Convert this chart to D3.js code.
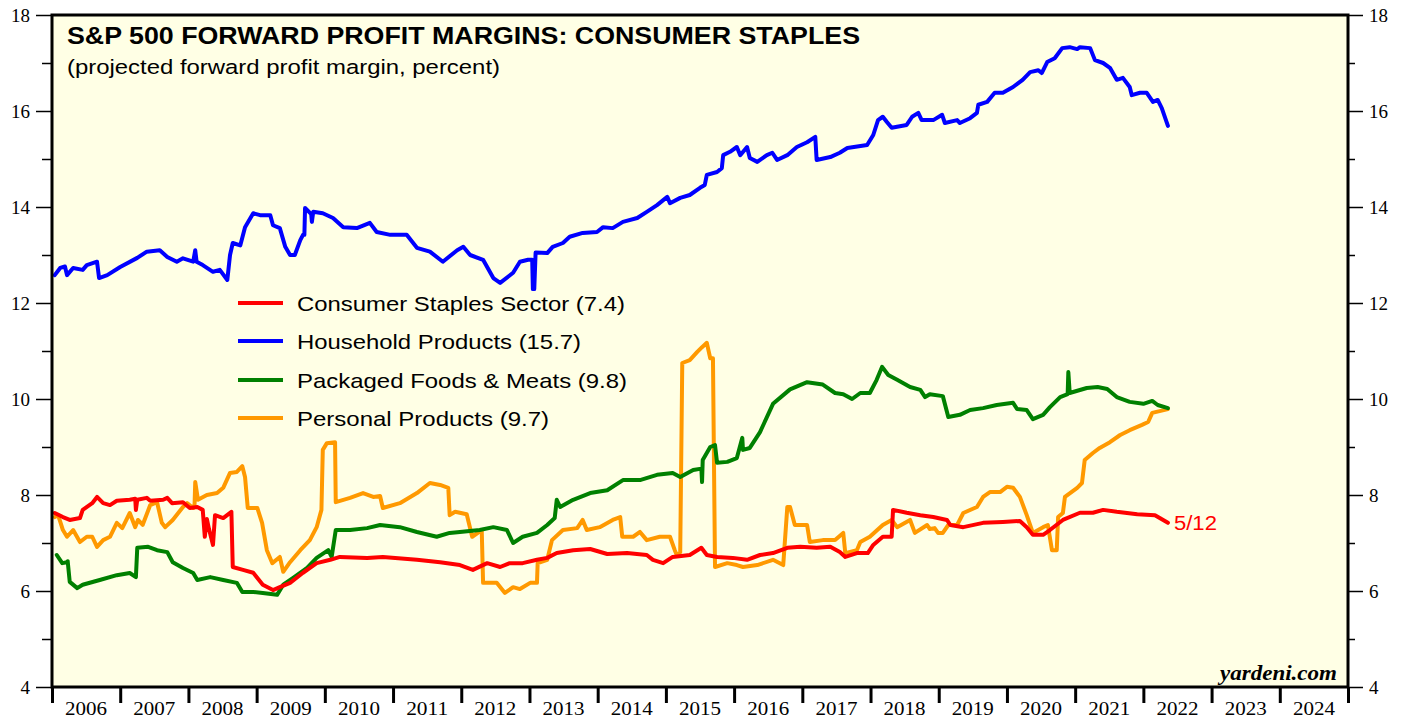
<!DOCTYPE html>
<html><head><meta charset="utf-8">
<script src="https://cdn.jsdelivr.net/npm/d3@7"></script>
<style>
body{margin:0;background:#fff;}
svg{display:block;}
</style></head>
<body>
<svg id="c" width="1407" height="719"></svg>
<script>
// ---------- DATA ----------
const years = d3.range(2006, 2025);            // year labels
const yMajorTicks = [4, 6, 8, 10, 12, 14, 16, 18];
const yMinorTicks = [5, 7, 9, 11, 13, 15, 17];

const seriesNames = ["Consumer Staples Sector (7.4)", "Household Products (15.7)", "Packaged Foods & Meats (9.8)", "Personal Products (9.7)"];
const seriesColors = ["#ff0000", "#0000ff", "#008000", "#ff9900"];

// [decimal year, percent]
const consumerStaples = [[2006.04,7.625],[2006.16,7.54],[2006.26,7.48],[2006.41,7.52],[2006.45,7.69],[2006.59,7.83],[2006.66,7.96],[2006.75,7.83],[2006.85,7.79],[2006.95,7.88],[2007.14,7.9],[2007.22,7.92],[2007.23,7.69],[2007.25,7.9],[2007.39,7.94],[2007.44,7.88],[2007.63,7.9],[2007.69,7.94],[2007.76,7.83],[2007.92,7.85],[2008.02,7.73],[2008.13,7.75],[2008.21,7.69],[2008.24,7.13],[2008.27,7.5],[2008.30,7.3],[2008.36,6.96],[2008.39,7.58],[2008.51,7.52],[2008.63,7.65],[2008.65,6.5],[2008.80,6.44],[2008.95,6.38],[2009.09,6.13],[2009.24,6.02],[2009.34,6.08],[2009.49,6.17],[2009.68,6.38],[2009.88,6.58],[2010.08,6.65],[2010.22,6.71],[2010.62,6.69],[2010.85,6.71],[2011.35,6.65],[2011.69,6.6],[2011.98,6.54],[2012.17,6.44],[2012.38,6.58],[2012.57,6.5],[2012.71,6.58],[2012.90,6.58],[2013.11,6.65],[2013.26,6.69],[2013.40,6.79],[2013.64,6.85],[2013.89,6.875],[2014.14,6.77],[2014.43,6.79],[2014.72,6.75],[2014.81,6.65],[2014.96,6.58],[2015.10,6.71],[2015.35,6.75],[2015.52,6.9],[2015.60,6.75],[2015.75,6.71],[2015.98,6.69],[2016.19,6.65],[2016.38,6.75],[2016.57,6.79],[2016.78,6.9],[2016.97,6.92],[2017.21,6.9],[2017.41,6.92],[2017.55,6.81],[2017.63,6.71],[2017.80,6.79],[2017.96,6.79],[2018.04,6.96],[2018.18,7.13],[2018.31,7.13],[2018.33,7.69],[2018.53,7.63],[2018.73,7.58],[2018.92,7.54],[2019.12,7.48],[2019.17,7.375],[2019.36,7.33],[2019.65,7.42],[2019.94,7.44],[2020.19,7.46],[2020.29,7.33],[2020.38,7.17],[2020.53,7.17],[2020.63,7.27],[2020.82,7.48],[2021.07,7.63],[2021.26,7.63],[2021.41,7.69],[2021.61,7.65],[2021.91,7.6],[2022.17,7.58],[2022.36,7.42]];

const householdProducts = [[2006.04,12.58],[2006.12,12.73],[2006.19,12.76],[2006.22,12.58],[2006.31,12.73],[2006.45,12.69],[2006.51,12.79],[2006.66,12.86],[2006.69,12.52],[2006.81,12.58],[2007.00,12.75],[2007.25,12.94],[2007.39,13.07],[2007.58,13.1],[2007.69,12.96],[2007.83,12.86],[2007.92,12.93],[2008.07,12.86],[2008.10,13.1],[2008.12,12.86],[2008.21,12.79],[2008.36,12.65],[2008.46,12.69],[2008.57,12.48],[2008.61,13.0],[2008.65,13.25],[2008.76,13.2],[2008.83,13.58],[2008.95,13.87],[2009.05,13.83],[2009.20,13.83],[2009.24,13.62],[2009.34,13.56],[2009.42,13.17],[2009.49,13.0],[2009.56,13.0],[2009.64,13.31],[2009.68,13.42],[2009.70,13.42],[2009.71,13.98],[2009.80,13.85],[2009.81,13.69],[2009.83,13.9],[2009.97,13.87],[2010.12,13.77],[2010.27,13.58],[2010.47,13.56],[2010.66,13.67],[2010.76,13.48],[2010.96,13.42],[2011.20,13.42],[2011.35,13.15],[2011.54,13.07],[2011.73,12.86],[2011.94,13.1],[2012.03,13.17],[2012.13,13.0],[2012.32,12.9],[2012.47,12.52],[2012.57,12.42],[2012.76,12.63],[2012.86,12.86],[2012.98,12.9],[2013.04,12.9],[2013.05,12.29],[2013.07,12.29],[2013.09,13.05],[2013.26,13.04],[2013.34,13.17],[2013.49,13.25],[2013.59,13.38],[2013.78,13.46],[2013.99,13.48],[2014.08,13.58],[2014.22,13.56],[2014.37,13.69],[2014.58,13.77],[2014.72,13.9],[2014.87,14.04],[2015.02,14.21],[2015.06,14.08],[2015.21,14.19],[2015.35,14.25],[2015.50,14.4],[2015.57,14.46],[2015.60,14.67],[2015.75,14.73],[2015.82,14.81],[2015.84,15.08],[2015.94,15.15],[2016.04,15.25],[2016.09,15.08],[2016.19,15.25],[2016.23,15.02],[2016.34,14.94],[2016.48,15.08],[2016.56,15.13],[2016.63,14.98],[2016.78,15.08],[2016.92,15.25],[2017.07,15.35],[2017.19,15.46],[2017.21,14.98],[2017.41,15.04],[2017.55,15.13],[2017.66,15.23],[2017.95,15.29],[2018.04,15.5],[2018.11,15.81],[2018.18,15.88],[2018.24,15.77],[2018.31,15.65],[2018.53,15.71],[2018.61,15.88],[2018.70,15.96],[2018.75,15.81],[2018.92,15.81],[2019.05,15.92],[2019.09,15.75],[2019.27,15.81],[2019.31,15.75],[2019.46,15.85],[2019.56,15.96],[2019.58,16.13],[2019.71,16.19],[2019.82,16.38],[2019.94,16.38],[2020.09,16.5],[2020.23,16.65],[2020.34,16.81],[2020.46,16.85],[2020.51,16.79],[2020.59,17.02],[2020.70,17.1],[2020.81,17.31],[2020.92,17.33],[2021.03,17.29],[2021.07,17.33],[2021.22,17.31],[2021.29,17.06],[2021.41,17.0],[2021.51,16.9],[2021.61,16.65],[2021.70,16.69],[2021.80,16.5],[2021.83,16.33],[2021.95,16.38],[2022.05,16.38],[2022.14,16.19],[2022.21,16.23],[2022.27,16.06],[2022.36,15.69]];

const packagedFoods = [[2006.07,6.75],[2006.15,6.58],[2006.22,6.6],[2006.23,6.62],[2006.26,6.19],[2006.37,6.06],[2006.45,6.13],[2006.70,6.23],[2006.95,6.33],[2007.14,6.375],[2007.23,6.29],[2007.25,6.9],[2007.41,6.92],[2007.54,6.85],[2007.69,6.81],[2007.77,6.6],[2007.92,6.48],[2008.07,6.375],[2008.13,6.23],[2008.32,6.29],[2008.51,6.23],[2008.71,6.17],[2008.79,5.98],[2008.95,5.98],[2009.09,5.96],[2009.30,5.92],[2009.39,6.13],[2009.53,6.27],[2009.74,6.48],[2009.88,6.69],[2010.05,6.85],[2010.10,6.71],[2010.16,7.27],[2010.37,7.27],[2010.62,7.31],[2010.81,7.375],[2011.10,7.33],[2011.35,7.23],[2011.64,7.13],[2011.83,7.21],[2011.98,7.23],[2012.27,7.27],[2012.47,7.33],[2012.67,7.27],[2012.76,7.0],[2012.90,7.13],[2013.11,7.21],[2013.26,7.375],[2013.37,7.52],[2013.40,7.9],[2013.45,7.75],[2013.64,7.9],[2013.89,8.04],[2014.14,8.1],[2014.37,8.31],[2014.62,8.31],[2014.87,8.42],[2015.10,8.46],[2015.21,8.375],[2015.40,8.52],[2015.52,8.55],[2015.53,8.27],[2015.54,8.73],[2015.65,9.0],[2015.72,9.04],[2015.75,8.67],[2015.90,8.69],[2016.04,8.77],[2016.12,9.19],[2016.13,8.94],[2016.23,8.98],[2016.38,9.31],[2016.57,9.9],[2016.82,10.2],[2017.07,10.35],[2017.30,10.3],[2017.48,10.125],[2017.60,10.1],[2017.73,10.0],[2017.85,10.125],[2017.99,10.125],[2018.09,10.4],[2018.17,10.67],[2018.26,10.5],[2018.39,10.4],[2018.58,10.25],[2018.73,10.19],[2018.80,10.04],[2018.87,10.1],[2019.06,10.06],[2019.14,9.625],[2019.31,9.67],[2019.46,9.77],[2019.65,9.81],[2019.85,9.875],[2020.09,9.92],[2020.15,9.79],[2020.29,9.77],[2020.38,9.58],[2020.53,9.67],[2020.63,9.83],[2020.78,10.04],[2020.89,10.1],[2020.90,10.56],[2020.92,10.125],[2021.17,10.23],[2021.33,10.25],[2021.47,10.21],[2021.61,10.04],[2021.80,9.94],[2022.00,9.9],[2022.13,9.96],[2022.21,9.875],[2022.36,9.81]];

const personalProducts = [[2006.04,7.54],[2006.09,7.58],[2006.16,7.27],[2006.22,7.13],[2006.31,7.27],[2006.41,7.02],[2006.51,7.13],[2006.59,7.13],[2006.66,6.92],[2006.75,7.06],[2006.85,7.13],[2006.95,7.42],[2007.03,7.31],[2007.14,7.625],[2007.22,7.33],[2007.26,7.48],[2007.33,7.38],[2007.44,7.79],[2007.54,7.85],[2007.61,7.42],[2007.66,7.33],[2007.77,7.48],[2007.92,7.75],[2007.98,7.83],[2008.07,7.73],[2008.09,7.8],[2008.10,8.27],[2008.14,7.9],[2008.27,8.0],[2008.42,8.04],[2008.51,8.15],[2008.61,8.46],[2008.71,8.48],[2008.79,8.6],[2008.83,8.375],[2008.87,7.73],[2009.01,7.73],[2009.08,7.42],[2009.15,6.85],[2009.23,6.58],[2009.34,6.71],[2009.39,6.4],[2009.49,6.6],[2009.64,6.85],[2009.78,7.06],[2009.88,7.33],[2009.95,7.69],[2009.97,8.94],[2010.03,9.08],[2010.15,9.1],[2010.16,7.85],[2010.37,7.94],[2010.56,8.04],[2010.71,7.96],[2010.81,7.98],[2010.85,7.73],[2011.10,7.83],[2011.35,8.04],[2011.54,8.25],[2011.69,8.21],[2011.81,8.15],[2011.83,7.58],[2011.91,7.65],[2012.08,7.6],[2012.16,7.13],[2012.30,7.27],[2012.32,6.17],[2012.52,6.17],[2012.64,5.96],[2012.76,6.08],[2012.86,6.04],[2013.01,6.17],[2013.11,6.17],[2013.12,6.58],[2013.26,6.65],[2013.33,7.06],[2013.49,7.27],[2013.70,7.31],[2013.78,7.48],[2013.84,7.27],[2014.03,7.33],[2014.22,7.48],[2014.33,7.54],[2014.36,7.13],[2014.52,7.13],[2014.62,7.23],[2014.72,7.06],[2014.91,7.13],[2015.06,7.13],[2015.13,6.85],[2015.16,6.75],[2015.21,6.81],[2015.24,10.75],[2015.35,10.81],[2015.46,10.98],[2015.53,11.08],[2015.60,11.17],[2015.65,10.85],[2015.69,10.85],[2015.72,6.5],[2015.90,6.58],[2016.04,6.54],[2016.13,6.5],[2016.34,6.54],[2016.57,6.65],[2016.72,6.54],[2016.78,7.75],[2016.82,7.75],[2016.89,7.375],[2017.07,7.375],[2017.11,7.02],[2017.30,7.06],[2017.48,7.06],[2017.60,7.21],[2017.63,6.79],[2017.80,6.85],[2017.85,7.02],[2017.99,7.13],[2018.18,7.375],[2018.31,7.48],[2018.39,7.33],[2018.58,7.48],[2018.65,7.21],[2018.83,7.375],[2018.87,7.29],[2018.94,7.31],[2018.99,7.21],[2019.06,7.21],[2019.14,7.375],[2019.27,7.375],[2019.36,7.625],[2019.56,7.75],[2019.65,7.96],[2019.75,8.06],[2019.90,8.06],[2020.00,8.17],[2020.09,8.15],[2020.19,7.96],[2020.29,7.58],[2020.38,7.21],[2020.53,7.33],[2020.60,7.375],[2020.66,6.85],[2020.73,6.85],[2020.75,7.54],[2020.82,7.625],[2020.85,7.96],[2021.03,8.15],[2021.10,8.25],[2021.14,8.73],[2021.26,8.875],[2021.36,8.98],[2021.51,9.1],[2021.66,9.25],[2021.80,9.35],[2021.98,9.46],[2022.07,9.52],[2022.13,9.71],[2022.36,9.79]];

const lastDateLabel = "5/12";

// ---------- LAYOUT ----------
const svg = d3.select("#c");
const L = 52, R = 1348, T = 15, B = 687;
const x = d3.scaleLinear().domain([2006, 2025]).range([L, R]);
const y = d3.scaleLinear().domain([4, 18]).range([B, T]);

svg.append("rect").attr("x", L).attr("y", T).attr("width", R - L).attr("height", B - T)
  .attr("fill", "#ffffe5");

const line = d3.line().x(d => x(d[0])).y(d => y(d[1]));
const allSeries = [consumerStaples, householdProducts, packagedFoods, personalProducts];
const drawOrder = [3, 2, 0, 1];
const g = svg.append("g");
drawOrder.forEach(i => {
  g.append("path").datum(allSeries[i]).attr("d", line)
    .attr("fill", "none").attr("stroke", seriesColors[i]).attr("stroke-width", 4)
    .attr("stroke-linejoin", "round").attr("stroke-linecap", "round");
});

svg.append("rect").attr("x", L).attr("y", T).attr("width", R - L).attr("height", B - T)
  .attr("fill", "none").attr("stroke", "#000").attr("stroke-width", 3);

const serif = "'Liberation Serif','Times New Roman',serif";
const sans = "'Liberation Sans',Arial,Helvetica,sans-serif";

function yAxis(gen, xpos, vals, size, labels) {
  const a = svg.append("g").attr("transform", `translate(${xpos},0)`)
    .call(gen(y).tickValues(vals).tickSize(size).tickPadding(6)
      .tickFormat(labels ? d3.format("d") : ""));
  a.select(".domain").remove();
  a.selectAll("line").attr("stroke", "#000").attr("stroke-width", 1.5);
  a.selectAll("text").attr("font-family", serif).attr("font-size", 19).attr("fill", "#000");
  return a;
}
yAxis(d3.axisLeft, L, yMajorTicks, 16, true);
yAxis(d3.axisLeft, L, yMinorTicks, 10, false);
yAxis(d3.axisRight, R, yMajorTicks, 15, true);
yAxis(d3.axisRight, R, yMinorTicks, 7, false);

const xa = svg.append("g").attr("transform", `translate(0,${B})`)
  .call(d3.axisBottom(x).tickValues(d3.range(2006, 2026)).tickSize(16).tickFormat(""));
xa.select(".domain").remove();
xa.selectAll("line").attr("stroke", "#000").attr("stroke-width", 3);
svg.append("g").selectAll("text").data(years).join("text")
  .attr("x", d => x(d + 0.5)).attr("y", 715).attr("text-anchor", "middle")
  .attr("font-family", serif).attr("font-size", 19)
  .attr("textLength", 42).attr("lengthAdjust", "spacingAndGlyphs").text(d => d);

function stretched(sel, len) {
  return sel.attr("textLength", len).attr("lengthAdjust", "spacingAndGlyphs");
}

stretched(svg.append("text").attr("x", 67).attr("y", 44).attr("font-family", sans).attr("font-weight", "bold")
  .attr("font-size", 24).text("S&P 500 FORWARD PROFIT MARGINS: CONSUMER STAPLES"), 793);
stretched(svg.append("text").attr("x", 67).attr("y", 74).attr("font-family", sans)
  .attr("font-size", 20.5).text("(projected forward profit margin, percent)"), 433);

const legY = [303, 341, 380, 418];
const legLen = [328, 284, 330, 252];
const leg = svg.append("g");
seriesNames.forEach((n, i) => {
  leg.append("line").attr("x1", 238).attr("x2", 283).attr("y1", legY[i]).attr("y2", legY[i])
    .attr("stroke", seriesColors[i]).attr("stroke-width", 4);
  stretched(leg.append("text").attr("x", 297).attr("y", legY[i]).attr("dy", "0.36em")
    .attr("font-family", sans).attr("font-size", 21).text(n), legLen[i]);
});

const last = consumerStaples[consumerStaples.length - 1];
stretched(svg.append("text").attr("x", x(last[0]) + 6).attr("y", y(last[1])).attr("dy", "0.36em")
  .attr("font-family", sans).attr("font-size", 20).attr("fill", "#ff0000").text(lastDateLabel), 43);

stretched(svg.append("text").attr("x", 1220).attr("y", 680)
  .attr("font-family", serif).attr("font-weight", "bold").attr("font-style", "italic")
  .attr("font-size", 21).text("yardeni.com"), 117);
</script>
</body></html>
